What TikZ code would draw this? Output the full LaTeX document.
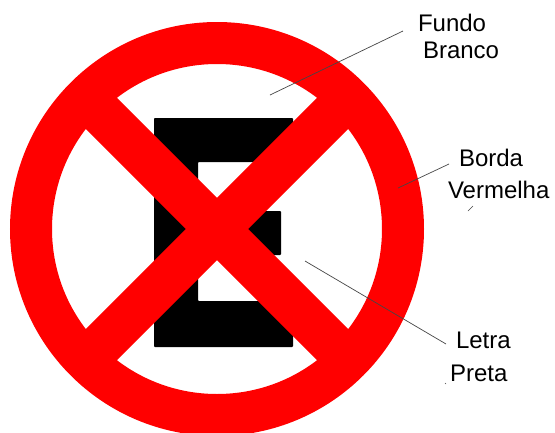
\documentclass[tikz,border=0pt]{standalone}
\usepackage{fontspec}
\setmainfont{Liberation Sans}
\definecolor{signred}{RGB}{255,0,0}
\definecolor{leadergray}{RGB}{70,70,70}
\tikzset{
  x=1pt,y=-1pt,
  lbl/.style={anchor=base west,inner sep=0pt,outer sep=0pt,font=\fontsize{24}{25}\selectfont,text=black},
  leader/.style={draw=leadergray,line width=0.7pt},
  bar/.style={draw=signred,line width=44pt,line cap=butt},
}
\begin{document}
\begin{tikzpicture}
\useasboundingbox (0,0) rectangle (555,432);
\fill[white] (0,0) rectangle (555,432);
% letter
\fill[black,rounded corners=0.8pt] (154,118) -- (293,118) -- (293,162) -- (198,162) -- (198,211) -- (281,211) -- (281,255) -- (198,255) -- (198,301) -- (293,301) -- (293,347) -- (154,347) -- cycle;
% ring and bars
\begin{scope}
\clip (0,0) rectangle (555,432);
\begin{scope}
\clip (217,229) circle[radius=186];
\draw[bar] (217,229) ++(-200,-200) -- ++(400,400);
\draw[bar] (217,229) ++(200,-200) -- ++(-400,400);
\end{scope}
\draw[signred,line width=42pt] (217,229) circle[radius=186];
\end{scope}
% labels
\node[lbl] (fundo) at (418,31) {Fundo};
\node[lbl] (branco) at (423,58) {Branco};
\node[lbl] (borda) at (459,166) {Borda};
\node[lbl] (vermelha) at (448,198) {Vermelha};
\node[lbl] (letra) at (456,348) {Letra};
\node[lbl] (preta) at (450,381) {Preta};
% leaders
\coordinate (a1) at (270,95); \coordinate (a2) at (403,31);
\coordinate (b1) at (398,188); \coordinate (b2) at (449,164);
\coordinate (c1) at (305,261); \coordinate (c2) at (446,344);
\coordinate (d1) at (468,211); \coordinate (d2) at (473,206);
\coordinate (e1) at (445,383); \coordinate (e2) at (446,384);
\draw[leader] (a1) -- (a2);
\draw[leader] (b1) -- (b2);
\draw[leader] (c1) -- (c2);
\draw[leader,line width=0.5pt] (d1) -- (d2);
\draw[leader,line width=0.5pt] (e1) -- (e2);
\end{tikzpicture}
\end{document}
